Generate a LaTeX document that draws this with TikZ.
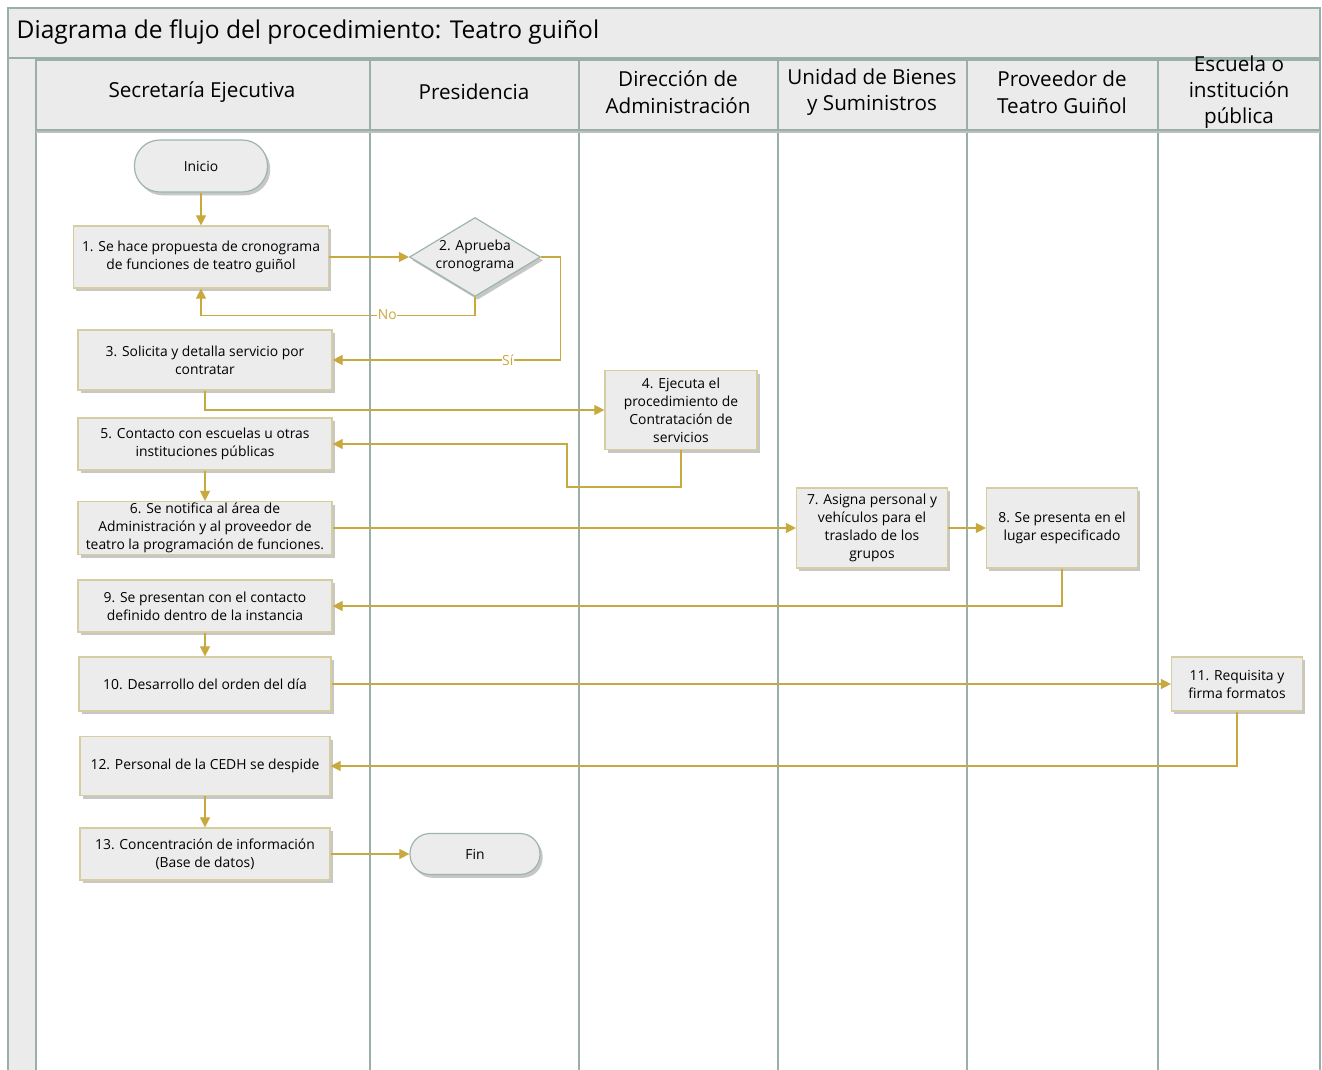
\documentclass[tikz,border=0pt]{standalone}
\usepackage{fontspec}
\setmainfont{Open Sans}
\usetikzlibrary{shapes.geometric,shadows,arrows.meta}
\definecolor{gold}{HTML}{C8A93E}
\definecolor{boxfill}{HTML}{ECECEC}
\definecolor{boxline}{HTML}{D6CDA0}
\definecolor{laneline}{HTML}{9BAFA9}
\definecolor{termline}{HTML}{9DB5AD}
\definecolor{hdrfill}{HTML}{EBEBEB}
\begin{document}
\begin{tikzpicture}[x=0.75pt,y=-0.75pt,
  shade/.style={drop shadow={shadow xshift=2pt,shadow yshift=-2.5pt,fill=black!40,opacity=0.55}},
  stepbox/.style={draw=boxline, fill=boxfill, line width=0.9pt, shade, align=center,
     font=\fontsize{10.4}{13.5}\selectfont, inner sep=1pt},
  term/.style={draw=termline, fill=boxfill, line width=0.9pt, shade, align=center,
     font=\fontsize{10.4}{13.5}\selectfont},
  dec/.style={draw=termline, fill=boxfill, line width=0.9pt, shade, diamond, inner sep=0pt},
  lbl/.style={align=center, font=\fontsize{10.4}{13.5}\selectfont},
  hdr/.style={align=center, font=\fontsize{15.5}{20}\selectfont},
  flow/.style={draw=gold, line width=0.8pt, -{Triangle[length=7.5pt,width=7.5pt]}},
  tag/.style={fill=white, text=gold, inner sep=0.5pt, font=\fontsize{10.4}{12}\selectfont},
  lane/.style={draw=laneline, line width=1.4pt}]
\useasboundingbox (0,0) rectangle (1322,1070);
% frame
\fill[white] (0,0) rectangle (1322,1070);
\draw[lane, fill=hdrfill] (8,8) rectangle (1320,58);
\draw[lane, fill=hdrfill] (8,58) rectangle (36,1072);
\foreach \a/\b in {36/370,370/579,579/778,778/967,967/1158,1158/1320}{
  \draw[lane] (\a,58) rectangle (\b,1072);
  \draw[lane, fill=hdrfill] (\a,60) rectangle (\b,130);
}
\draw[black!25, line width=1.5pt] (36,132.5) -- (1320,132.5);
\node[anchor=west, font=\fontsize{18.4}{22}\selectfont] (title) at (12,32) {Diagrama de flujo del procedimiento: Teatro guiñol};
\node[hdr] (h1) at (202,92) {Secretaría Ejecutiva};
\node[hdr] (h2) at (474,92) {Presidencia};
\node[hdr] (h3) at (678,92) {Dirección de\\Administración};
\node[hdr] (h4) at (872,92) {Unidad de Bienes\\y Suministros};
\node[hdr] (h5) at (1062,92) {Proveedor de\\Teatro Guiñol};
\node[hdr, font=\fontsize{15.5}{19.5}\selectfont] (h6) at (1239,92) {Escuela o\\institución\\pública};
% nodes
\node[term, minimum width=99.75pt, minimum height=39pt, rounded corners=19pt] (ini) at (201,166) {Inicio};
\node[stepbox, minimum width=191.25pt, minimum height=46.5pt] (b1) at (201,257) {1. Se hace propuesta de cronograma\\de funciones de teatro guiñol};
\node[dec, minimum width=98.25pt, minimum height=59.25pt] (d2) at (475,257) {};
\node[lbl] (d2t) at (475,256) {2. Aprueba\\cronograma};
\node[stepbox, minimum width=190.5pt, minimum height=45pt] (b3) at (205,360) {3. Solicita y detalla servicio por\\contratar};
\node[stepbox, minimum width=114pt, minimum height=59.25pt] (b4) at (681,410) {4. Ejecuta el\\procedimiento de\\Contratación de\\servicios};
\node[stepbox, minimum width=190.5pt, minimum height=39pt] (b5) at (205,444) {5. Contacto con escuelas u otras\\instituciones públicas};
\node[stepbox, minimum width=190.5pt, minimum height=39.75pt] (b6) at (205,528) {6. Se notifica al área de\\Administración y al proveedor de\\teatro la programación de funciones.};
\node[stepbox, minimum width=113.25pt, minimum height=60pt] (b7) at (872,528) {7. Asigna personal y\\vehículos para el\\traslado de los\\grupos};
\node[stepbox, minimum width=113.25pt, minimum height=60pt] (b8) at (1062,528) {8. Se presenta en el\\lugar especificado};
\node[stepbox, minimum width=190.5pt, minimum height=39pt] (b9) at (205,606) {9. Se presentan con el contacto\\definido dentro de la instancia};
\node[stepbox, minimum width=189pt, minimum height=40.5pt] (b10) at (205,684) {10. Desarrollo del orden del día};
\node[stepbox, minimum width=98.25pt, minimum height=40.5pt] (b11) at (1237,684) {11. Requisita y\\firma formatos};
\node[stepbox, minimum width=187.5pt, minimum height=44.25pt] (b12) at (205,766) {12. Personal de la CEDH se despide};
\node[stepbox, minimum width=187.5pt, minimum height=39pt] (b13) at (205,854) {13. Concentración de información\\(Base de datos)};
\node[term, minimum width=97.5pt, minimum height=30.75pt, rounded corners=15pt] (fin) at (475,854) {Fin};
% connectors
\draw[flow] (ini) -- (b1);
\draw[flow] (b1.east) -- (d2.west);
\draw[flow] (d2.south) -- ++(0,18) -| node[tag, pos=0.16] (no) {No} (b1.south);
\draw[flow] (d2.east) -- ++(19,0) |- node[tag, pos=0.615] (si) {Sí} (b3.east);
\draw[flow] (b3.south) |- (b4.west);
\draw[flow] (b4.south) |- (567,487) |- (b5.east);
\draw[flow] (b5) -- (b6);
\draw[flow] (b6.east) -- (b7.west);
\draw[flow] (b7.east) -- (b8.west);
\draw[flow] (b8.south) |- (b9.east);
\draw[flow] (b9) -- (b10);
\draw[flow] (b10.east) -- (b11.west);
\draw[flow] (b11.south) |- (b12.east);
\draw[flow] (b12) -- (b13);
\draw[flow] (b13.east) -- (fin.west);
\end{tikzpicture}
\end{document}
